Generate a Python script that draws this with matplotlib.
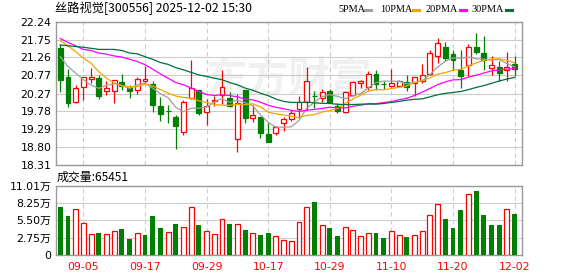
import numpy as np
import matplotlib
matplotlib.use('Agg')
import matplotlib.pyplot as plt
from matplotlib.patches import Rectangle
from matplotlib.lines import Line2D

plt.rcParams['font.family'] = ['DejaVu Sans', 'Noto Sans CJK SC']

###############################################################################
# data (60 trading days, 2025-09-02 .. 2025-12-02)

date_labels = ['09-05', '09-17', '09-29', '10-17', '10-29', '11-10', '11-20', '12-02']
date_idx = [3, 11, 19, 27, 35, 43, 51, 59]

opens = [21.52, 20.73, 20.05, 20.45, 20.68, 20.69, 20.34, 20.34, 20.59, 20.42,
         20.36, 20.60, 20.53, 19.94, 19.79, 19.62, 19.22, 20.15, 20.37, 19.76,
         20.07, 20.24, 20.15, 19.03, 20.36, 19.60, 19.62, 19.17, 19.19, 19.45,
         19.57, 19.85, 20.04, 20.21, 20.14, 20.34, 19.94, 19.76, 20.23, 20.56,
         20.45, 20.81, 20.54, 20.48, 20.47, 20.58, 20.57, 20.62, 20.81, 21.30,
         21.54, 21.36, 20.92, 21.05, 21.54, 21.38, 20.97, 21.01, 20.92, 21.08]
highs = [21.63, 20.94, 20.51, 20.73, 20.97, 20.78, 20.62, 20.65, 20.81, 20.50,
         20.71, 21.03, 20.62, 20.17, 19.96, 19.68, 20.08, 21.19, 20.37, 20.13,
         20.21, 20.92, 20.32, 20.26, 20.36, 19.96, 19.62, 19.46, 19.39, 19.62,
         19.81, 20.19, 21.01, 20.33, 20.39, 20.39, 20.01, 20.35, 20.60, 20.65,
         20.89, 20.92, 20.60, 20.94, 20.64, 20.78, 20.72, 21.08, 21.47, 21.79,
         21.69, 21.47, 21.47, 21.63, 21.92, 21.85, 21.30, 21.17, 21.40, 21.30]
lows = [20.30, 19.89, 20.01, 20.08, 20.57, 20.12, 20.22, 20.01, 20.37, 20.16,
        20.25, 20.56, 19.75, 19.51, 19.46, 18.75, 19.13, 20.13, 19.69, 19.42,
        19.94, 19.99, 19.90, 18.66, 19.46, 19.48, 19.04, 18.93, 19.13, 19.24,
        19.51, 19.59, 19.83, 19.87, 20.05, 20.01, 19.74, 19.74, 20.19, 20.42,
        20.37, 20.37, 20.39, 20.46, 20.45, 20.35, 20.19, 20.57, 20.78, 21.10,
        21.15, 20.92, 20.42, 20.74, 21.36, 20.92, 20.78, 20.60, 20.60, 20.74]
closes = [20.63, 20.01, 20.42, 20.72, 20.73, 20.19, 20.42, 20.63, 20.48, 20.33,
          20.68, 20.66, 19.95, 19.71, 19.78, 19.37, 20.05, 20.42, 19.73, 19.93,
          20.10, 20.45, 19.94, 20.01, 19.59, 19.68, 19.19, 18.93, 19.35, 19.58,
          19.74, 20.05, 20.61, 20.19, 20.32, 20.03, 19.80, 20.31, 20.58, 20.62,
          20.81, 20.53, 20.52, 20.57, 20.60, 20.46, 20.72, 20.78, 21.38, 21.65,
          21.24, 21.18, 20.74, 21.54, 21.41, 21.19, 21.05, 20.83, 20.99, 20.94]
prev_close_first = 21.55

# volume in units of 10k (万)
volumes = [7.68, 6.25, 7.31, 5.13, 3.33, 3.55, 3.33, 3.81, 4.13, 2.59,
           3.49, 3.18, 6.25, 4.34, 3.65, 4.98, 4.45, 7.62, 4.76, 3.81,
           3.33, 5.72, 4.98, 4.92, 3.97, 3.49, 3.18, 3.55, 3.02, 2.38,
           2.22, 5.24, 7.62, 8.42, 4.76, 4.29, 3.02, 4.39, 3.97, 3.02,
           3.49, 3.55, 2.70, 3.81, 3.18, 2.86, 3.18, 3.81, 6.35, 8.10,
           5.72, 4.29, 7.15, 9.69, 10.16, 6.35, 4.76, 4.76, 7.31, 6.55]
last_volume = 65451

# moving averages before the window is filled
ma5_head = [21.28, 21.01, 20.83, 20.65]
ma10_head = [21.72, 21.58, 21.42, 21.24, 21.10, 20.87, 20.69, 20.56, 20.48]
ma20_head = [21.78, 21.67, 21.58, 21.48, 21.45, 21.38, 21.35, 21.30, 21.27, 21.21,
             21.15, 21.06, 20.94, 20.81, 20.69, 20.57, 20.51, 20.42, 20.33]
ma30_head = [21.60, 21.58, 21.56, 21.54, 21.51, 21.48, 21.48, 21.48, 21.45, 21.38,
             21.36, 21.28, 21.21, 21.12, 21.07, 20.98, 20.92, 20.85, 20.78, 20.74,
             20.69, 20.65, 20.57, 20.51, 20.42, 20.36, 20.28, 20.21, 20.12]

price_ticks = [18.31, 18.80, 19.29, 19.78, 20.27, 20.77, 21.26, 21.75, 22.24]
vol_ticks = [0, 2.75, 5.50, 8.25, 11.01]
vol_tick_labels = ['0', '2.75万', '5.50万', '8.25万', '11.01万']

###############################################################################
# settings:

red = '#ff0000'
green = '#008000'
grid_col = '#cccccc'
frame_col = '#999999'
ma_cols = ['#a0a0a0', '#f5a300', '#ff00ff', '#006f3c']
ma_names = ['5PMA', '10PMA', '20PMA', '30PMA']

W, H = 578, 276
n = len(closes)
body_w = 0.64
xlim = (-0.62, n - 1 + 0.96)


def moving_avg(head, k):
    out = list(head)
    for i in range(len(head), n):
        out.append(np.mean(closes[i - k + 1:i + 1]))
    return np.array(out)


mas = [moving_avg(ma5_head, 5), moving_avg(ma10_head, 10),
       moving_avg(ma20_head, 20), moving_avg(ma30_head, 30)]


def px_axes(left, top, right, bottom):
    return [left / W, 1 - bottom / H, (right - left) / W, (bottom - top) / H]


fig = plt.figure(figsize=(W / 100, H / 100), dpi=100)
ax1 = fig.add_axes(px_axes(55.5, 21.7, 522, 165))
ax2 = fig.add_axes(px_axes(55.5, 185.7, 522, 255))

for ax in [ax1, ax2]:
    for sp in ax.spines.values():
        sp.set_color(frame_col)
        sp.set_linewidth(1.0)
    ax.set_xlim(xlim)
    ax.set_xticks(date_idx)
    ax.xaxis.grid(True, color=grid_col, lw=0.8, ls=(0, (4, 3)))
    ax.yaxis.grid(True, color=grid_col, lw=0.8)
    ax.set_axisbelow(True)
    ax.tick_params(length=0, labelsize=7.8, pad=3)

###############################################################################
# price panel:

ax1.set_ylim(price_ticks[0], price_ticks[-1])
ax1.set_yticks(price_ticks)
ax1.set_yticklabels(['%.2f' % t for t in price_ticks])
ax1.set_xticklabels([])

# watermark
ax1.text(0.5, 0.6, '东方财富', transform=ax1.transAxes, fontsize=30,
         family=['Noto Sans CJK SC'], color='#f0f0f0', ha='center', va='center',
         fontweight='bold', zorder=0.5)

for i in range(n):
    o, h, l, c = opens[i], highs[i], lows[i], closes[i]
    up = c >= o
    col = red if up else green
    ax1.vlines(i, l, h, color=col, lw=0.9, zorder=3)
    hgt = max(abs(c - o), 0.015)
    ax1.add_patch(Rectangle((i - body_w / 2, min(o, c)), body_w, hgt,
                            facecolor='white' if up else col, edgecolor=col,
                            lw=0.9, zorder=4))

x = np.arange(n)
for ma, col in zip(mas, ma_cols):
    ax1.plot(x, ma, color=col, lw=0.9, zorder=5)

###############################################################################
# volume panel:

ax2.set_ylim(vol_ticks[0], vol_ticks[-1])
ax2.set_yticks(vol_ticks)
ax2.set_yticklabels(vol_tick_labels)
ax2.set_xticklabels(date_labels, color=red)
ax2.tick_params(axis='x', pad=5, labelsize=7.8)

prev = [prev_close_first] + closes[:-1]
for i in range(n):
    up = closes[i] >= prev[i]
    if up:
        ax2.bar(i, volumes[i], width=body_w, facecolor='white', edgecolor=red,
                lw=0.9, zorder=3)
    else:
        ax2.bar(i, volumes[i], width=body_w, color=green, lw=0, zorder=3)

###############################################################################
# header texts:

fig.text(55 / W, 1 - 8.5 / H, '丝路视觉[300556] 2025-12-02 15:30', fontsize=8.8,
         family=['Noto Sans CJK SC', 'DejaVu Sans'], va='center', ha='left')
fig.text(57 / W, 1 - 177 / H, '成交量:%d' % last_volume, fontsize=8.6,
         family=['Noto Sans CJK SC', 'DejaVu Sans'], va='center', ha='left')

legend_x = [338, 380, 426, 472]
dash_x = [365, 413, 460, 506]
for name, col, tx, dx in zip(ma_names, ma_cols, legend_x, dash_x):
    fig.text(tx / W, 1 - 9 / H, name, fontsize=7.4, family=['Liberation Serif'],
             va='center', ha='left')
    fig.add_artist(Line2D([dx / W, (dx + 6) / W], [1 - 9.5 / H, 1 - 9.5 / H],
                          color=col, lw=2.2, transform=fig.transFigure))

fig.savefig('out.png', dpi=100)
plt.close('all')
